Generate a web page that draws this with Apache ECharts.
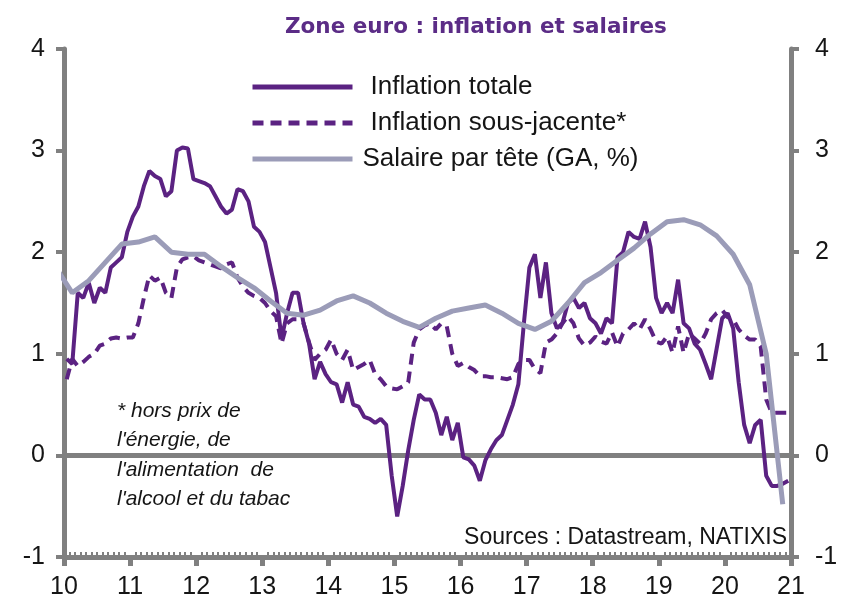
<!DOCTYPE html>
<html><head><meta charset="utf-8">
<script src="https://cdn.jsdelivr.net/npm/echarts@6/dist/echarts.min.js"></script>
<style>html,body{margin:0;padding:0;background:#fff}#chart{width:844px;height:608px}</style>
</head><body><div id="chart"></div>
<script>
// ---------- data ----------
const chartTitle = 'Zone euro : inflation et salaires';
const seriesNames = ['Inflation totale', 'Inflation sous-jacente*', 'Salaire par tête (GA, %)'];
const xTickLabels = ['10','11','12','13','14','15','16','17','18','19','20','21'];
const yTickLabels = ['-1','0','1','2','3','4'];
const firstYear = 2010; // monthly series start in January 2010

const inflationTotale = [
  0.95, 0.9, 1.6, 1.55, 1.7, 1.5, 1.65, 1.6, 1.85, 1.9, 1.95, 2.2,
  2.35, 2.45, 2.65, 2.8, 2.75, 2.72, 2.55, 2.6, 3.0, 3.03, 3.02, 2.72,
  2.7, 2.68, 2.65, 2.55, 2.45, 2.38, 2.42, 2.62, 2.6, 2.5, 2.25, 2.2,
  2.1, 1.85, 1.6, 1.15, 1.4, 1.6, 1.6, 1.3, 1.1, 0.75, 0.92, 0.8,
  0.72, 0.7, 0.52, 0.72, 0.5, 0.48, 0.38, 0.36, 0.32, 0.36, 0.3, -0.2,
  -0.6, -0.3, 0.05, 0.35, 0.6, 0.55, 0.55, 0.42, 0.2, 0.38, 0.15, 0.32,
  -0.02, -0.04, -0.1, -0.25, -0.05, 0.06, 0.15, 0.2, 0.35, 0.5, 0.7, 1.3,
  1.85, 1.98, 1.55, 1.9, 1.4, 1.25, 1.3, 1.5, 1.55, 1.45, 1.5, 1.35,
  1.3, 1.2, 1.35, 1.3, 1.95, 2.0, 2.2, 2.15, 2.13, 2.3, 2.05, 1.55,
  1.4, 1.5, 1.4, 1.73, 1.3, 1.25, 1.1, 1.04, 0.9, 0.75, 1.05, 1.35,
  1.4, 1.25, 0.72, 0.3, 0.12, 0.3, 0.35, -0.2, -0.3, -0.3, -0.28, -0.25
];

const inflationSousJacente = [
  0.75, 0.95, 0.88, 0.92, 0.97, 1.0, 1.08, 1.1, 1.15, 1.16, 1.15, 1.16,
  1.16, 1.3, 1.55, 1.77, 1.72, 1.75, 1.6, 1.55, 1.85, 1.93, 1.95, 1.96,
  1.92, 1.9, 1.88, 1.86, 1.84, 1.88, 1.9, 1.75, 1.66, 1.6, 1.57, 1.55,
  1.5, 1.42, 1.37, 1.1, 1.3, 1.34, 1.34, 1.3, 1.11, 0.94, 1.0, 1.04,
  1.14, 1.0, 0.94, 1.04, 0.84, 0.87, 0.9, 0.94, 0.8, 0.75, 0.68, 0.66,
  0.65, 0.68, 0.72, 1.11, 1.24, 1.28, 1.3, 1.24, 1.3, 1.27, 1.0, 0.88,
  0.91, 0.87, 0.84, 0.78, 0.78, 0.77, 0.77, 0.76, 0.75, 0.77, 0.9, 0.94,
  0.94, 0.85, 0.81, 1.11, 1.14, 1.2, 1.3, 1.37, 1.3, 1.15, 1.08, 1.11,
  1.17, 1.12, 1.1, 1.21, 1.07, 1.2, 1.24, 1.3, 1.24, 1.34, 1.24, 1.12,
  1.1, 1.17, 1.01, 1.27, 1.01, 1.2, 1.15, 1.1, 1.2, 1.34, 1.4, 1.43,
  1.36, 1.34, 1.24, 1.18, 1.14, 1.14, 1.07, 0.55, 0.42, 0.42, 0.42, 0.42
];

const wageQuarters = [
  '2009Q4',
  '2010Q1','2010Q2','2010Q3','2010Q4','2011Q1','2011Q2','2011Q3','2011Q4',
  '2012Q1','2012Q2','2012Q3','2012Q4','2013Q1','2013Q2','2013Q3','2013Q4',
  '2014Q1','2014Q2','2014Q3','2014Q4','2015Q1','2015Q2','2015Q3','2015Q4',
  '2016Q1','2016Q2','2016Q3','2016Q4','2017Q1','2017Q2','2017Q3','2017Q4',
  '2018Q1','2018Q2','2018Q3','2018Q4','2019Q1','2019Q2','2019Q3','2019Q4',
  '2020Q1','2020Q2','2020Q3','2020Q4'
];
const salaireParTete = [
  1.85,
  1.6, 1.72, 1.9, 2.08, 2.1, 2.15, 2.0, 1.98,
  1.98, 1.86, 1.75, 1.65, 1.52, 1.4, 1.38, 1.43,
  1.52, 1.57, 1.5, 1.4, 1.32, 1.26, 1.35, 1.42,
  1.45, 1.48, 1.4, 1.3, 1.24, 1.32, 1.5, 1.7,
  1.8, 1.92, 2.04, 2.18, 2.3, 2.32, 2.27, 2.16,
  1.98, 1.68, 1.0, -0.48
];

const footnoteLines = ['* hors prix de', "l'énergie, de", "l'alimentation  de", "l'alcool et du tabac"];
const sourceText = 'Sources : Datastream, NATIXIS';

// ---------- build ----------
const monthX = i => firstYear + (i + 0.5) / 12;
const quarterX = q => { const y = +q.slice(0, 4), n = +q.slice(5); return y + (n - 1) * 0.25 + 0.125; };
const totalData = inflationTotale.map((v, i) => [monthX(i), v]);
const coreData = inflationSousJacente.map((v, i) => [monthX(i), v]);
const wageData = salaireParTete.map((v, i) => [quarterX(wageQuarters[i]), v]);

const PURPLE = '#5b2282';
const WAGE = '#9b9cb8';
const AXIS = '#808080';
const TXT = '#151515';
const FONT = '"Liberation Sans", Arial, sans-serif';
const xMin = 2010, xMax = 2021;

const yAxisBase = {
  type: 'value', min: -1, max: 4, interval: 1,
  axisLine: { show: true, lineStyle: { color: AXIS, width: 5 } },
  axisTick: { show: true, length: 8, lineStyle: { color: AXIS, width: 4 } },
  splitLine: { show: false },
  axisLabel: { fontSize: 25, fontFamily: FONT, color: TXT,
    formatter: v => yTickLabels[Math.round(v) + 1] }
};

const chart = echarts.init(document.getElementById('chart'), null, { renderer: 'canvas' });
chart.setOption({
  animation: false,
  backgroundColor: '#fff',
  title: {
    text: chartTitle, left: 280, top: 11,
    textStyle: { fontFamily: '"DejaVu Sans", Verdana, sans-serif', fontWeight: 'bold', fontSize: 21.5, color: '#5b2c86' }
  },
  legend: {
    orient: 'vertical', left: 245, top: 69,
    itemWidth: 100, itemHeight: 14, itemGap: 10,
    selectedMode: false,
    itemStyle: { opacity: 0 },
    lineStyle: { width: 5 },
    textStyle: { fontSize: 26, fontFamily: FONT, color: TXT },
    data: [
      { name: seriesNames[0], textStyle: { padding: [0, 0, 0, 13] } },
      { name: seriesNames[1], textStyle: { padding: [0, 0, 0, 13] } },
      { name: seriesNames[2], textStyle: { padding: [0, 0, 0, 5] } }
    ]
  },
  grid: { left: 64, right: 53, top: 49, bottom: 51 },
  xAxis: [
    {
      type: 'value', min: xMin, max: xMax, interval: 1, position: 'bottom',
      axisLine: { onZero: false, lineStyle: { color: AXIS, width: 5 } },
      axisTick: { show: true, length: 9, lineStyle: { color: AXIS, width: 5 } },
      splitLine: { show: false },
      axisLabel: { fontSize: 25, fontFamily: FONT, color: TXT, margin: 18,
        formatter: v => xTickLabels[Math.round(v - xMin)] }
    },
    {
      type: 'value', min: xMin, max: xMax, interval: 1, position: 'bottom',
      axisLine: { show: false, onZero: false },
      axisTick: { show: false, inside: true },
      minorTick: { show: true, splitNumber: 12, length: 5, lineStyle: { color: AXIS, width: 2 } },
      axisLabel: { show: false }, splitLine: { show: false }
    },
    {
      type: 'value', min: xMin, max: xMax, interval: 1, position: 'bottom',
      axisLine: { show: true, onZero: true, lineStyle: { color: AXIS, width: 5 } },
      axisTick: { show: false }, axisLabel: { show: false }, splitLine: { show: false }
    }
  ],
  yAxis: [
    Object.assign({}, yAxisBase, { position: 'left', axisLabel: Object.assign({}, yAxisBase.axisLabel, { margin: 19 }) }),
    Object.assign({}, yAxisBase, { position: 'right', axisLabel: Object.assign({}, yAxisBase.axisLabel, { margin: 24 }) })
  ],
  series: [
    {
      name: seriesNames[0], type: 'line', data: totalData, xAxisIndex: 0, yAxisIndex: 0,
      symbol: 'none', z: 3, clip: true,
      lineStyle: { color: PURPLE, width: 4 }, itemStyle: { color: PURPLE }
    },
    {
      name: seriesNames[1], type: 'line', data: coreData, xAxisIndex: 0, yAxisIndex: 0,
      symbol: 'none', z: 3, clip: true,
      lineStyle: { color: PURPLE, width: 4, type: [11, 7] }, itemStyle: { color: PURPLE }
    },
    {
      name: seriesNames[2], type: 'line', data: wageData, xAxisIndex: 0, yAxisIndex: 0,
      symbol: 'none', z: 4, clip: true,
      lineStyle: { color: WAGE, width: 5 }, itemStyle: { color: WAGE }
    }
  ],
  graphic: [
    {
      type: 'text', left: 117, top: 396, silent: true,
      style: { text: footnoteLines.join('\n'), font: 'italic 21px ' + FONT, fill: TXT, lineHeight: 29.5 }
    },
    {
      type: 'text', right: 57, top: 526, silent: true,
      style: { text: sourceText, font: '23px ' + FONT, fill: TXT }
    }
  ]
});
</script>
</body></html>
